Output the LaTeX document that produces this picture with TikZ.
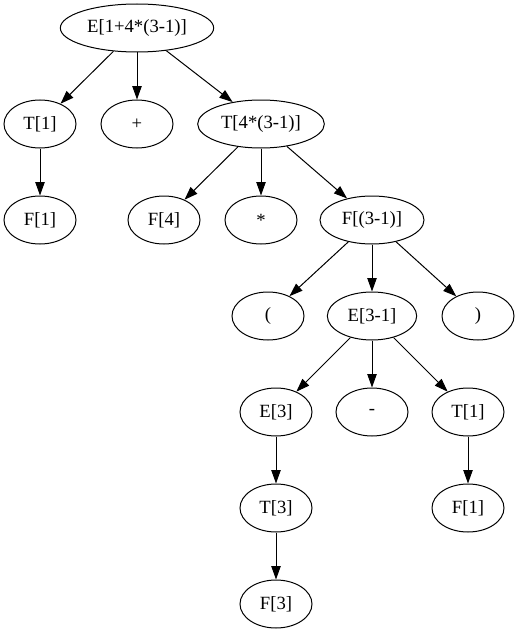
\documentclass[tikz,border=0pt]{standalone}
\usepackage{fontspec}
\setmainfont{Liberation Serif}
\usetikzlibrary{shapes.geometric,arrows.meta}
\colorlet{nodeline}{black}
\colorlet{edgeline}{black}

\begin{document}
\begin{tikzpicture}[x=0.75pt, y=-0.75pt,
        tnode/.style={ellipse, draw=nodeline, line width=0.75pt, inner sep=0pt,
                minimum width=54pt, minimum height=36pt, font=\fontsize{14pt}{16pt}\selectfont},
        edge/.style={draw=edgeline, line width=0.75pt, -{Triangle[length=10pt, width=7pt]}}]
    \useasboundingbox (0,0) rectangle (520,635);
    % --- ranks 0-2: the expression and its terms ---
    \node[tnode, minimum width=115pt] (root) at (137,28) {E[1+4*(3-1)]};
    \node[tnode] (t1) at (40,124) {T[1]};
    \node[tnode] (plus) at (137,124) {+};
    \node[tnode, minimum width=95pt] (t4) at (261,124) {T[4*(3-1)]};
    \node[tnode] (f1) at (40,220) {F[1]};
    \node[tnode] (f4) at (164,220) {F[4]};
    \node[tnode] (star) at (261,220) {*};
    \node[tnode, minimum width=78pt] (fp) at (372,220) {F[(3-1)]};
    % --- ranks 3-6: the bracketed part ---
    \node[tnode] (lp) at (268,316) {(};
    \node[tnode, minimum width=67pt] (e31) at (372,316) {E[3-1]};
    \node[tnode] (rp) at (478,316) {)};
    \node[tnode] (e3) at (276,412) {E[3]};
    \node[tnode] (minus) at (372,412) {-};
    \node[tnode] (t1b) at (468,412) {T[1]};
    \node[tnode] (t3) at (276,508) {T[3]};
    \node[tnode] (f1b) at (468,508) {F[1]};
    \node[tnode] (f3) at (276,604) {F[3]};
    % --- edges ---
    \foreach \a/\b in {root/t1, root/plus, root/t4, t1/f1, t4/f4, t4/star, t4/fp,
            fp/lp, fp/e31, fp/rp, e31/e3, e31/minus, e31/t1b, e3/t3, t1b/f1b, t3/f3} {
            \draw[edge] (\a) -- (\b);
        }
\end{tikzpicture}
\end{document}
